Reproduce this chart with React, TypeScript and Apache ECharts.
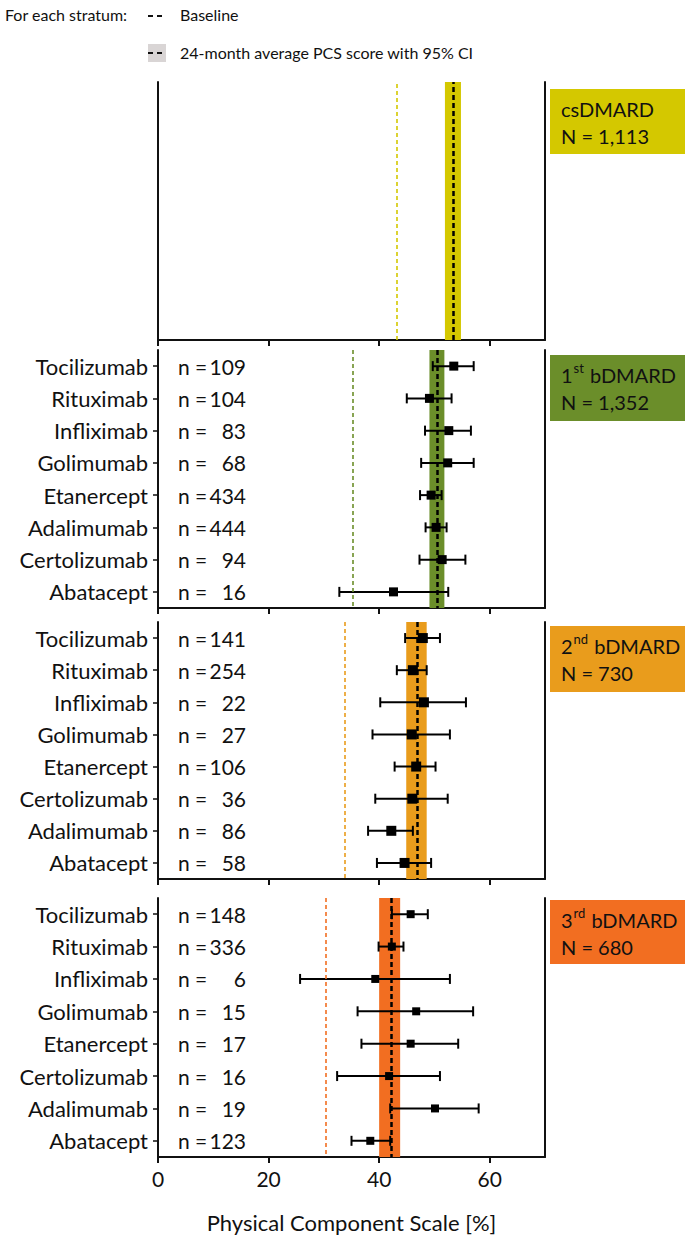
import React, { useEffect, useRef } from "react";
import * as echarts from "echarts";

// ---------- data ----------
const strata = ["csDMARD", "1st bDMARD", "2nd bDMARD", "3rd bDMARD"];
const stratumN = ["1,113", "1,352", "730", "680"];
const stratumBaseline = [43.2, 35.3, 33.8, 30.3];
const stratumMean = [53.4, 50.5, 46.9, 42.2];
const stratumLo = [51.9, 49.1, 44.9, 40.0];
const stratumHi = [54.8, 51.8, 48.6, 43.8];

const drugs1 = ["Tocilizumab", "Rituximab", "Infliximab", "Golimumab", "Etanercept", "Adalimumab", "Certolizumab", "Abatacept"];
const n1 = [109, 104, 83, 68, 434, 444, 94, 16];
const mean1 = [53.5, 49.1, 52.6, 52.4, 49.4, 50.3, 51.4, 42.6];
const lo1 = [49.7, 45.0, 48.3, 47.6, 47.4, 48.4, 47.3, 32.8];
const hi1 = [57.1, 53.1, 56.6, 57.1, 51.3, 52.2, 55.6, 52.5];

const drugs2 = ["Tocilizumab", "Rituximab", "Infliximab", "Golimumab", "Etanercept", "Certolizumab", "Adalimumab", "Abatacept"];
const n2 = [141, 254, 22, 27, 106, 36, 86, 58];
const mean2 = [47.9, 46.1, 48.1, 45.9, 46.7, 46.0, 42.2, 44.6];
const lo2 = [44.7, 43.2, 40.2, 38.8, 42.8, 39.3, 38.0, 39.6];
const hi2 = [51.0, 48.6, 55.7, 52.8, 50.2, 52.4, 46.1, 49.4];

const drugs3 = ["Tocilizumab", "Rituximab", "Infliximab", "Golimumab", "Etanercept", "Certolizumab", "Adalimumab", "Abatacept"];
const n3 = [148, 336, 6, 15, 17, 16, 19, 123];
const mean3 = [45.7, 42.3, 39.3, 46.7, 45.7, 41.8, 50.1, 38.4];
const lo3 = [42.3, 39.9, 25.7, 36.1, 36.8, 32.4, 42.0, 35.0];
const hi3 = [48.8, 44.4, 52.8, 57.0, 54.3, 51.0, 58.0, 42.0];

const xTicks = [0, 20, 40, 60];
const xName = "Physical Component Scale [%]";
const legendTitle = "For each stratum:";
const legendBaseline = "Baseline";
const legendAverage = "24-month average PCS score with 95% CI";

// ---------- styles ----------
const FONT = "Lato";
const colors = ["#D4C800", "#6B8E2A", "#E99C1C", "#F26E21"];
const grids = [
  { top: 82, height: 258 },
  { top: 350, height: 258 },
  { top: 622, height: 257 },
  { top: 898, height: 259 },
];
const boxes = [
  { y: 89, h: 65 },
  { y: 355, h: 66 },
  { y: 626, h: 66 },
  { y: 900, h: 64 },
];
const squareSizes = [0, 9, 10, 8];

export default function App() {
  const ref = useRef<HTMLDivElement>(null);
  useEffect(() => {
    if (!ref.current) return;
    const chart = echarts.init(ref.current, undefined, { renderer: "svg" });

    const panels = [
      null,
      { drugs: drugs1, n: n1, mean: mean1, lo: lo1, hi: hi1 },
      { drugs: drugs2, n: n2, mean: mean2, lo: lo2, hi: hi2 },
      { drugs: drugs3, n: n3, mean: mean3, lo: lo3, hi: hi3 },
    ];

    const grid: any[] = [];
    const xAxis: any[] = [];
    const yAxis: any[] = [];
    const series: any[] = [];

    grids.forEach((g, i) => {
      grid.push({ left: 158, width: 387, top: g.top, height: g.height, containLabel: false });
      const last = i === 3;
      xAxis.push({
        type: "value",
        gridIndex: i,
        min: 0,
        max: 70,
        interval: 20,
        splitLine: { show: false },
        axisLine: { show: true, lineStyle: { color: "#111", width: 2 } },
        axisTick: { show: true, customValues: xTicks, length: 6, lineStyle: { color: "#111", width: 2 } },
        axisLabel: {
          show: last,
          customValues: xTicks,
          fontFamily: FONT,
          fontSize: 21,
          color: "#111",
          margin: 11,
        },
        name: last ? xName : "",
        nameLocation: "middle",
        nameGap: 54,
        nameTextStyle: { fontFamily: FONT, fontSize: 22, color: "#111" },
      });
      const p = panels[i];
      if (p) {
        yAxis.push({
          type: "category",
          gridIndex: i,
          position: "left",
          data: p.drugs,
          inverse: true,
          axisLine: { show: true, lineStyle: { color: "#111", width: 2 } },
          axisTick: { show: true, alignWithLabel: true, length: 5, lineStyle: { color: "#111", width: 1.5 } },
          axisLabel: { fontFamily: FONT, fontSize: 22, color: "#111", margin: 10 },
        });
        yAxis.push({
          type: "category",
          gridIndex: i,
          position: "left",
          data: p.n.map((v) => String(v)),
          inverse: true,
          axisLine: { show: false },
          axisTick: { show: false },
          axisLabel: {
            inside: true,
            margin: 20,
            formatter: (v: string) => `{a|n =}{b|${v}}`,
            rich: {
              a: { fontFamily: FONT, fontSize: 21, color: "#111", width: 34 },
              b: { fontFamily: FONT, fontSize: 21, color: "#111", width: 34, align: "right" },
            },
          },
        });
      } else {
        yAxis.push({
          type: "value",
          gridIndex: i,
          position: "left",
          min: 0,
          max: 1,
          splitLine: { show: false },
          axisLine: { show: true, lineStyle: { color: "#111", width: 2 } },
          axisTick: { show: false },
          axisLabel: { show: false },
        });
        yAxis.push({
          type: "value",
          gridIndex: i,
          position: "left",
          min: 0,
          max: 1,
          show: false,
        });
      }
      yAxis.push({
        type: "value",
        gridIndex: i,
        position: "right",
        min: 0,
        max: 1,
        splitLine: { show: false },
        axisLine: { show: true, lineStyle: { color: "#111", width: 2 } },
        axisTick: { show: false },
        axisLabel: { show: false },
      });
      const yi = i * 3;

      series.push({
        type: "scatter",
        xAxisIndex: i,
        yAxisIndex: yi,
        data: [],
        z: 1,
        silent: true,
        markArea: {
          silent: true,
          itemStyle: { color: colors[i], opacity: 1 },
          data: [[{ xAxis: stratumLo[i] }, { xAxis: stratumHi[i] }]],
        },
      });
      series.push({
        type: "scatter",
        xAxisIndex: i,
        yAxisIndex: yi,
        data: [],
        z: 2,
        silent: true,
        markLine: {
          silent: true,
          symbol: "none",
          label: { show: false },
          data: [
            { xAxis: stratumBaseline[i], lineStyle: { color: colors[i], type: [4, 3], width: 1.6 } },
            { xAxis: stratumMean[i], lineStyle: { color: "#000", type: [5, 3], width: 2.5 } },
          ],
        },
      });

      if (p) {
        series.push({
          type: "custom",
          xAxisIndex: i,
          yAxisIndex: yi,
          z: 3,
          silent: true,
          encode: { x: [0, 1], y: 2 },
          data: p.lo.map((l, k) => [l, p.hi[k], k]),
          renderItem: (params: any, api: any) => {
            const y = api.value(2);
            const a = api.coord([api.value(0), y]);
            const b = api.coord([api.value(1), y]);
            const h = 5;
            const st = { stroke: "#000", lineWidth: 2 };
            return {
              type: "group",
              children: [
                { type: "line", shape: { x1: a[0], y1: a[1], x2: b[0], y2: b[1] }, style: st },
                { type: "line", shape: { x1: a[0], y1: a[1] - h, x2: a[0], y2: a[1] + h }, style: st },
                { type: "line", shape: { x1: b[0], y1: b[1] - h, x2: b[0], y2: b[1] + h }, style: st },
              ],
            };
          },
        });
        series.push({
          type: "scatter",
          xAxisIndex: i,
          yAxisIndex: yi,
          z: 4,
          silent: true,
          symbol: "rect",
          symbolSize: squareSizes[i],
          itemStyle: { color: "#000", opacity: 1 },
          data: p.mean.map((m, k) => [m, k]),
        });
      }
    });

    const graphic: any[] = [
      { type: "text", left: 5, top: 6, style: { text: legendTitle, fontFamily: FONT, fontSize: 16, fill: "#111" } },
      { type: "line", shape: { x1: 148, y1: 16, x2: 166, y2: 16 }, style: { stroke: "#111", lineWidth: 2, lineDash: [5, 4] } },
      { type: "text", left: 180, top: 6, style: { text: legendBaseline, fontFamily: FONT, fontSize: 16, fill: "#111" } },
      { type: "rect", shape: { x: 148, y: 44, width: 18, height: 18 }, style: { fill: "#D9D5D5" } },
      { type: "line", shape: { x1: 148, y1: 53, x2: 166, y2: 53 }, style: { stroke: "#111", lineWidth: 2, lineDash: [5, 4] } },
      { type: "text", left: 180, top: 44, style: { text: legendAverage, fontFamily: FONT, fontSize: 16, fill: "#111" } },
    ];
    const sups = ["", "st", "nd", "rd"];
    boxes.forEach((b, i) => {
      graphic.push({ type: "rect", shape: { x: 550, y: b.y, width: 135, height: b.h }, style: { fill: colors[i] } });
      const parts = strata[i].split(" ");
      let first: string;
      if (i === 0) first = `{t|${strata[i]}}`;
      else {
        const num = parts[0].replace(sups[i], "");
        first = `{t|${num}}{s|${sups[i]}}{t| ${parts[1]}}`;
      }
      graphic.push({
        type: "text",
        x: 561,
        y: b.y + 6,
        style: {
          text: `${first}\n{t|N = ${stratumN[i]}}`,
          rich: {
            t: { fontFamily: FONT, fontSize: 20, lineHeight: 27, fill: "#111" },
            s: { fontFamily: FONT, fontSize: 13, lineHeight: 27, fill: "#111", verticalAlign: "top", padding: [0, 1, 0, 1] },
          },
        },
      });
    });

    chart.setOption({
      animation: false,
      backgroundColor: "#fff",
      grid,
      xAxis,
      yAxis,
      series,
      graphic,
    });
    return () => chart.dispose();
  }, []);
  return <div ref={ref} style={{ position: "absolute", left: 0, top: 0, width: 692, height: 1239 }} />;
}
